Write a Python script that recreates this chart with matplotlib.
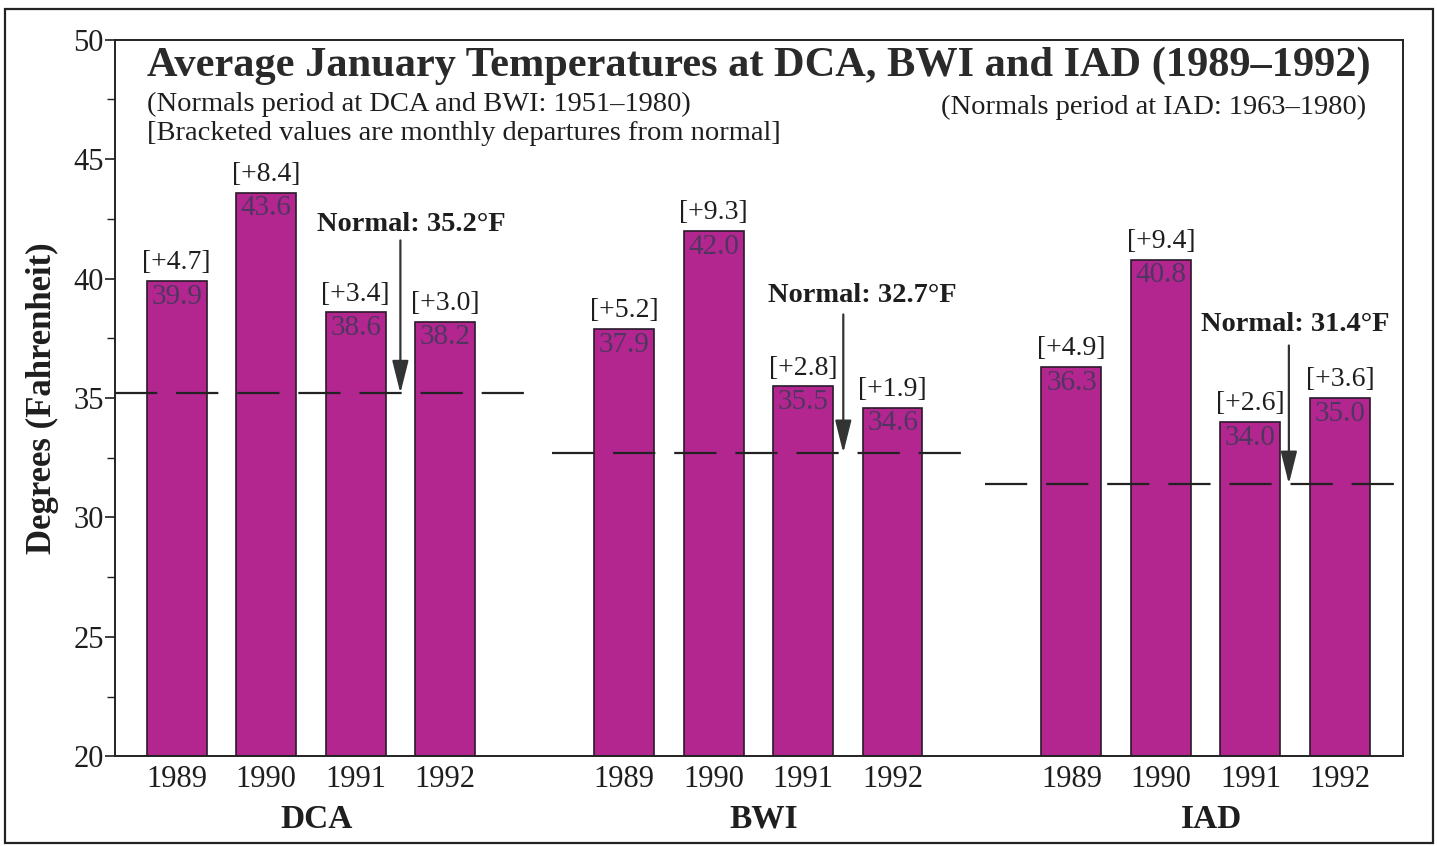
import matplotlib
matplotlib.use("Agg")
import matplotlib.pyplot as plt
from matplotlib.patches import Rectangle
from matplotlib.ticker import MultipleLocator
import matplotlib.transforms as mtransforms

plt.rcParams['font.family'] = ['Liberation Serif', 'DejaVu Serif']

# ---- data ----
stations = ["DCA", "BWI", "IAD"]
years = ["1989", "1990", "1991", "1992"]
temps_dca = [39.9, 43.6, 38.6, 38.2]
temps_bwi = [37.9, 42.0, 35.5, 34.6]
temps_iad = [36.3, 40.8, 34.0, 35.0]
dep_dca = ["+4.7", "+8.4", "+3.4", "+3.0"]
dep_bwi = ["+5.2", "+9.3", "+2.8", "+1.9"]
dep_iad = ["+4.9", "+9.4", "+2.6", "+3.6"]
normals = [35.2, 32.7, 31.4]

temps = [temps_dca, temps_bwi, temps_iad]
deps = [dep_dca, dep_bwi, dep_iad]

bar_color = "#B4268F"
edge_color = "#2a1a2a"
text_color = "#1e1e1e"
value_color = "#4f3660"

fig = plt.figure(figsize=(14.37, 8.46), dpi=100)
ax = fig.add_axes([0.080, 0.106, 0.896, 0.847])

group_gap = 5
xlo, xhi = -0.69, 13.70
ax.set_xlim(xlo, xhi)
ax.set_ylim(20, 50)

xticks = []
xlabels = []
for g, st in enumerate(stations):
    xs = [g * group_gap + i for i in range(len(years))]
    ax.bar(xs, [t - 20 for t in temps[g]], bottom=20, width=0.67,
           color=bar_color, edgecolor=edge_color, linewidth=1.2, zorder=2)
    for x, t, d in zip(xs, temps[g], deps[g]):
        ax.annotate(f"{t:.1f}", (x, t), xytext=(0, -2), textcoords="offset points",
                    ha="center", va="top", fontsize=21, color=value_color, zorder=4)
        ax.annotate(f"[{d}]", (x, t), xytext=(0, 4), textcoords="offset points",
                    ha="center", va="bottom", fontsize=20, color=text_color, zorder=4)
    xticks += xs
    xlabels += years

# normal dashed lines
line_ranges = [(xlo, 4.04), (4.2, 8.92), (9.03, xhi)]
for (a, b), n in zip(line_ranges, normals):
    ax.plot([a, b], [n, n], color="#222222", lw=1.6,
            linestyle=(0, (19, 8.5)), zorder=3, solid_capstyle="butt")

# normal annotations with arrows
arrow_x = [2.50, 7.45, 12.43]
arrow_top = [41.6, 38.5, 37.2]
text_pos = [(2.62, 42.26), (7.66, 39.29), (12.50, 38.08)]
for ax_x, top, (tx, ty), n in zip(arrow_x, arrow_top, text_pos, normals):
    ax.annotate("", xy=(ax_x, n), xytext=(ax_x, top),
                arrowprops=dict(arrowstyle="-|>,head_length=1.0,head_width=0.25",
                                mutation_scale=20, color="#333333", lw=1.6,
                                shrinkA=0, shrinkB=0), zorder=5)
    ax.text(tx, ty, f"Normal: {n:.1f}\u00b0F", ha="center", va="center",
            fontsize=20.5, fontweight="bold", color=text_color, zorder=5)

# titles
ax.text(-0.33, 48.9, "Average January Temperatures at DCA, BWI and IAD (1989\u20131992)",
        ha="left", va="center", fontsize=30.5, fontweight="bold", color="#2a2a2a")
ax.text(-0.33, 47.28, "(Normals period at DCA and BWI: 1951\u20131980)",
        ha="left", va="center", fontsize=20.5, color=text_color)
ax.text(-0.33, 46.07, "[Bracketed values are monthly departures from normal]",
        ha="left", va="center", fontsize=20.5, color=text_color)
ax.text(13.29, 47.15, "(Normals period at IAD: 1963\u20131980)",
        ha="right", va="center", fontsize=20.5, color=text_color)

# axes styling
ax.set_xticks(xticks)
ax.set_xticklabels(xlabels, fontsize=22, color=text_color)
ax.tick_params(axis="x", length=0, pad=6)
ax.yaxis.set_major_locator(MultipleLocator(5))
ax.yaxis.set_minor_locator(MultipleLocator(2.5))
ax.tick_params(axis="y", which="major", length=7, width=1.2, labelsize=22,
               pad=1, colors=text_color)
ax.tick_params(axis="y", which="minor", length=6, width=1.0, colors=text_color)
for sp in ax.spines.values():
    sp.set_linewidth(1.4)
    sp.set_color("#222222")

ax.set_ylabel("Degrees (Fahrenheit)", fontsize=25, fontweight="bold",
              color=text_color, labelpad=10)

trans = mtransforms.blended_transform_factory(ax.transData, fig.transFigure)
for g, st in enumerate(stations):
    cx = g * group_gap + 1.56
    ax.text(cx, 1 - 819 / 846, st, transform=trans, ha="center", va="center",
            fontsize=24, fontweight="bold", color=text_color)

# outer frame
fig.patches.append(Rectangle((0.0035, 0.004), 0.9935, 0.985, transform=fig.transFigure,
                             fill=False, edgecolor="#222222", linewidth=1.6))

fig.savefig("out.png", dpi=100, facecolor="white")
